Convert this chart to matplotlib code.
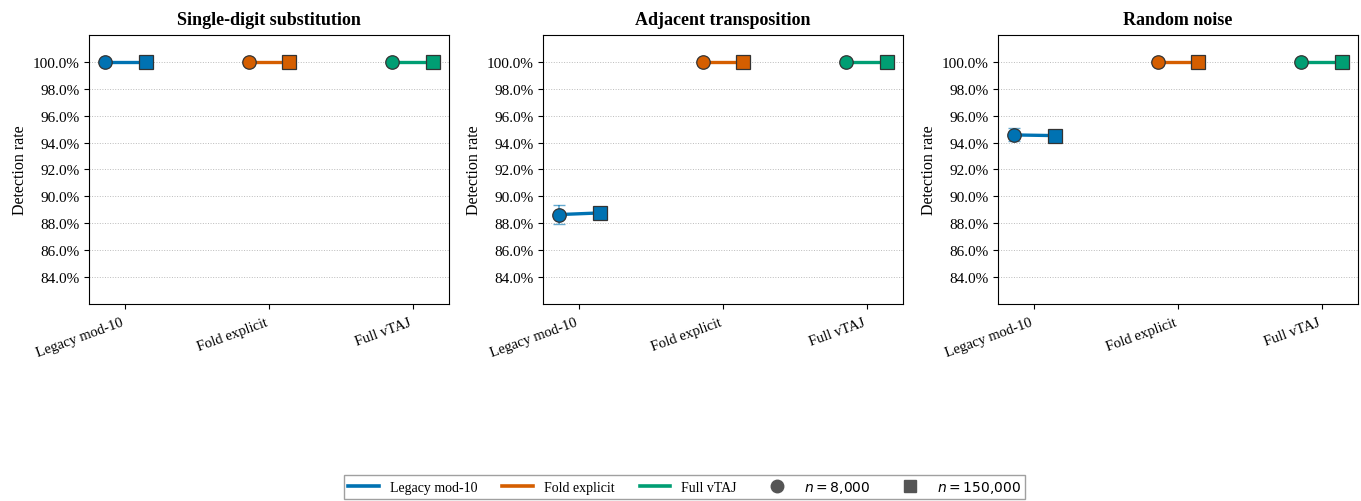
import matplotlib
matplotlib.use("Agg")
import matplotlib.pyplot as plt
from matplotlib.ticker import PercentFormatter, FixedLocator
from matplotlib.lines import Line2D
import numpy as np

plt.rcParams['font.family'] = ['Liberation Serif', 'DejaVu Serif']
plt.rcParams['mathtext.fontset'] = 'dejavusans'

panels = ["Single-digit substitution", "Adjacent transposition", "Random noise"]
methods = ["Legacy mod-10", "Fold explicit", "Full vTAJ"]
colors = ["#0072B2", "#D55E00", "#009E73"]
size_labels = ["$n = 8{,}000$", "$n = 150{,}000$"]

# detection rates (fraction) per panel -> per method: [n=8000, n=150000]
rate_small = {
    "Single-digit substitution": [1.000, 1.000, 1.000],
    "Adjacent transposition":    [0.8865, 1.000, 1.000],
    "Random noise":              [0.9457, 1.000, 1.000],
}
rate_large = {
    "Single-digit substitution": [1.000, 1.000, 1.000],
    "Adjacent transposition":    [0.8877, 1.000, 1.000],
    "Random noise":              [0.9452, 1.000, 1.000],
}
err_small = {
    "Single-digit substitution": [0.0, 0.0, 0.0],
    "Adjacent transposition":    [0.0068, 0.0, 0.0],
    "Random noise":              [0.0048, 0.0, 0.0],
}
err_large = {
    "Single-digit substitution": [0.0, 0.0, 0.0],
    "Adjacent transposition":    [0.0016, 0.0, 0.0],
    "Random noise":              [0.0012, 0.0, 0.0],
}
yticks = [0.84, 0.86, 0.88, 0.90, 0.92, 0.94, 0.96, 0.98, 1.00]

fig = plt.figure(figsize=(13.61, 5.02), dpi=100)
lefts = [89, 543, 998]
w = 360
bottom = 1 - 305 / 502
top = 1 - 36 / 502
off = 0.14
x = np.arange(len(methods))

for i, p in enumerate(panels):
    ax = fig.add_axes([lefts[i] / 1361, bottom, w / 1361, top - bottom])
    for j, m in enumerate(methods):
        xs = [x[j] - off, x[j] + off]
        ys = [rate_small[p][j], rate_large[p][j]]
        es = [err_small[p][j], err_large[p][j]]
        ax.plot(xs, ys, color=colors[j], lw=2.4, zorder=2)
        ax.errorbar(xs, ys, yerr=es, fmt='none', ecolor=colors[j], alpha=0.6,
                    elinewidth=1.2, capsize=4.5, zorder=2.5)
        ax.plot(xs[0], ys[0], marker='o', ms=9.7, color=colors[j],
                mec='#333333', mew=0.9, ls='none', zorder=3)
        ax.plot(xs[1], ys[1], marker='s', ms=9.8, color=colors[j],
                mec='#333333', mew=0.9, ls='none', zorder=3)
    ax.set_ylim(0.82, 1.02)
    ax.yaxis.set_major_locator(FixedLocator(yticks))
    ax.yaxis.set_major_formatter(PercentFormatter(xmax=1, decimals=1))
    ax.set_xticks(x)
    ax.set_xticklabels(methods, rotation=20, ha='right', fontsize=10.5)
    ax.tick_params(axis='y', labelsize=11)
    ax.tick_params(axis='x', pad=5)
    ax.set_ylabel("Detection rate", fontsize=11.5, labelpad=3)
    ax.set_title(p, fontsize=13, fontweight='bold', pad=8)
    ax.grid(axis='y', ls=':', lw=0.7, color='#bbbbbb', zorder=0)
    ax.set_axisbelow(True)

handles = [Line2D([0], [0], color=c, lw=2.6) for c in colors]
handles += [Line2D([0], [0], marker='o', color='#555555', ls='none', ms=9),
            Line2D([0], [0], marker='s', color='#555555', ls='none', ms=9)]
labels = methods + size_labels
leg = fig.legend(handles, labels, loc='lower center', ncol=5,
                 bbox_to_anchor=(0.503, 0.0), fontsize=10, frameon=True,
                 fancybox=False, edgecolor='#888888', handlelength=2.2,
                 columnspacing=1.8, borderpad=0.3, borderaxespad=0.15)
leg.get_frame().set_linewidth(1.0)

fig.savefig("out.png", dpi=100)
